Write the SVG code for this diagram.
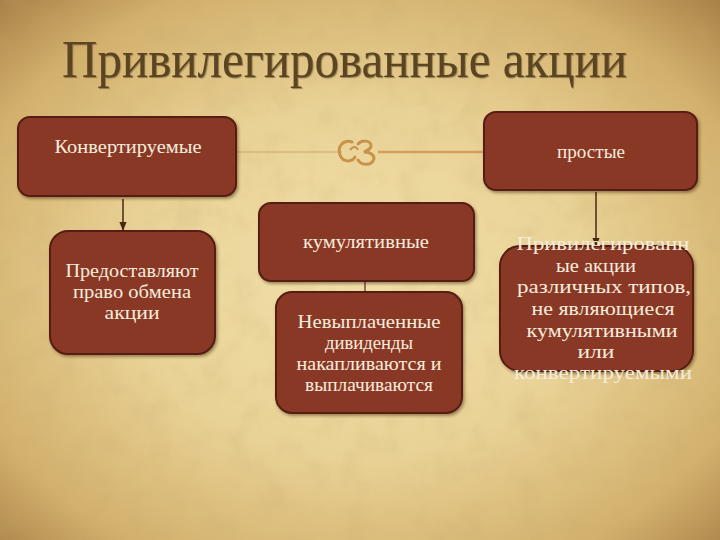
<svg xmlns="http://www.w3.org/2000/svg" width="720" height="540" viewBox="0 0 720 540">
  <defs>
    <radialGradient id="bg" cx="50%" cy="52%" r="72%">
      <stop offset="0" stop-color="#f1e0aa"/>
      <stop offset="0.45" stop-color="#e9d296"/>
      <stop offset="0.8" stop-color="#d3b06c"/>
      <stop offset="1" stop-color="#a88148"/>
    </radialGradient>
    <filter id="grain" x="0" y="0" width="100%" height="100%">
      <feTurbulence type="fractalNoise" baseFrequency="0.035" numOctaves="4" seed="7"/>
      <feColorMatrix type="matrix" values="0 0 0 0 0.55  0 0 0 0 0.40  0 0 0 0 0.16  0 0 0 1.1 -0.5"/>
    </filter>
    <filter id="shadow" x="-10%" y="-10%" width="125%" height="130%">
      <feDropShadow dx="1.5" dy="2" stdDeviation="1.5" flood-color="#3a2410" flood-opacity="0.45"/>
    </filter>
    <marker id="arrow" viewBox="0 0 10 10" refX="9" refY="5" markerWidth="6" markerHeight="6" orient="auto">
      <path d="M0,1 L10,5 L0,9 Z" fill="#4a2616"/>
    </marker>
    <style>
      .box { fill: #8a3727; stroke: #561c12; stroke-width: 2; filter: url(#shadow); }
      .lbl { font-family: "Liberation Serif", "DejaVu Serif", serif; font-size: 19px; fill: #f6ecdc; text-anchor: middle; }
      .title { font-family: "Liberation Serif", "DejaVu Serif", serif; font-size: 52px; fill: #5b4422; }
      .conn { stroke: #4a2616; stroke-width: 1.5; fill: none; }
    </style>
  </defs>

  <rect width="720" height="540" fill="url(#bg)"/>
  <rect width="720" height="540" filter="url(#grain)" opacity="0.4"/>

  <text class="title" x="62" y="77" textLength="565" lengthAdjust="spacingAndGlyphs" style="text-shadow:1px 1px 1px rgba(60,40,15,0.45)">Привилегированные акции</text>

  <!-- decorative line and ornament -->
  <g id="ornament">
    <line x1="237" y1="152" x2="342" y2="152" stroke="#c9a66a" stroke-width="1"/>
    <line x1="378" y1="152" x2="483" y2="152" stroke="#d59f58" stroke-width="2.5"/>
    <path d="M352,142 C343,139 337,147 340,155 C343,163 352,162 355,157" fill="none" stroke="#c9924a" stroke-width="3" stroke-linecap="round"/>
    <path d="M358,144 C362,140 370,140 371,145 C372,149 366,151 364,152 C371,152 376,156 373,161 C370,166 361,165 358,160" fill="none" stroke="#c9924a" stroke-width="3" stroke-linecap="round"/>
    <path d="M350,150 C353,146 356,146 358,150" fill="none" stroke="#c9924a" stroke-width="2"/>
  </g>

  <g id="connectors">
    <line class="conn" x1="123" y1="199" x2="123" y2="230" marker-end="url(#arrow)"/>
    <line class="conn" x1="596" y1="192" x2="596" y2="246" marker-end="url(#arrow)"/>
    <line x1="365" y1="256" x2="365" y2="292" stroke="#5a2014" stroke-width="1.2"/>
  </g>

  <g id="node-convertible">
    <rect class="box" x="18" y="117" width="218" height="79" rx="12"/>
    <text class="lbl" x="128" y="153" textLength="147" lengthAdjust="spacingAndGlyphs">Конвертируемые</text>
  </g>

  <g id="node-simple">
    <rect class="box" x="484" y="112" width="213" height="78" rx="12"/>
    <text class="lbl" x="591" y="158" textLength="68" lengthAdjust="spacingAndGlyphs">простые</text>
  </g>

  <g id="node-cumulative">
    <rect class="box" x="259" y="203" width="215" height="78" rx="12"/>
    <text class="lbl" x="366" y="248" textLength="126" lengthAdjust="spacingAndGlyphs">кумулятивные</text>
  </g>

  <g id="node-exchange">
    <rect class="box" x="50" y="231" width="165" height="123" rx="18"/>
    <text class="lbl" x="132" y="277" textLength="133" lengthAdjust="spacingAndGlyphs">Предоставляют</text>
    <text class="lbl" x="132" y="298" textLength="118" lengthAdjust="spacingAndGlyphs">право обмена</text>
    <text class="lbl" x="132" y="319" textLength="55" lengthAdjust="spacingAndGlyphs">акции</text>
  </g>

  <g id="node-unpaid">
    <rect class="box" x="276" y="292" width="186" height="121" rx="16"/>
    <text class="lbl" x="369" y="328" textLength="143" lengthAdjust="spacingAndGlyphs">Невыплаченные</text>
    <text class="lbl" x="369" y="349" textLength="88" lengthAdjust="spacingAndGlyphs">дивиденды</text>
    <text class="lbl" x="369" y="370" textLength="145" lengthAdjust="spacingAndGlyphs">накапливаются и</text>
    <text class="lbl" x="369" y="391" textLength="128" lengthAdjust="spacingAndGlyphs">выплачиваются</text>
  </g>

  <g id="node-other">
    <rect class="box" x="500" y="246" width="193" height="125" rx="20"/>
    <text class="lbl" x="603" y="250" textLength="173" lengthAdjust="spacingAndGlyphs">Привилегированн</text>
    <text class="lbl" x="596" y="272" textLength="80" lengthAdjust="spacingAndGlyphs">ые акции</text>
    <text class="lbl" x="604" y="293" textLength="174" lengthAdjust="spacingAndGlyphs">различных типов,</text>
    <text class="lbl" x="603" y="315" textLength="143" lengthAdjust="spacingAndGlyphs">не являющиеся</text>
    <text class="lbl" x="602" y="337" textLength="151" lengthAdjust="spacingAndGlyphs">кумулятивными</text>
    <text class="lbl" x="596" y="358" textLength="37" lengthAdjust="spacingAndGlyphs">или</text>
    <text class="lbl" x="603" y="379" textLength="178" lengthAdjust="spacingAndGlyphs">конвертируемыми</text>
  </g>
</svg>
